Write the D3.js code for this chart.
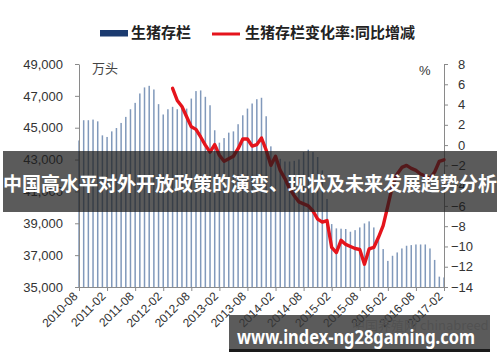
<!DOCTYPE html>
<html>
<head>
<meta charset="utf-8">
<script src="https://cdn.jsdelivr.net/npm/d3@7"></script>
<style>
  html, body { margin: 0; padding: 0; background: #fff; }
  svg { display: block; }
</style>
</head>
<body>
<div id="chart"></div>
<script>
const width = 500;
const height = 362;

// monthly categories, 2010-08 .. 2017-02
const firstMonth = "2010-08";
const lastMonth = "2017-02";
const tickLabels = ["2010-08", "2011-02", "2011-08", "2012-02", "2012-08", "2013-02", "2013-08",
                    "2014-02", "2014-08", "2015-02", "2015-08", "2016-02", "2016-08", "2017-02"];

// 生猪存栏 (万头), one per month
const stock = [
  44200, 45470, 45470, 45510, 45400, 44520, 44420, 44770, 44980, 45300,
  45680, 46160, 46560, 47150, 47530, 47630, 47400, 46480, 45830, 46160,
  46310, 46160, 46400, 46200, 46830, 47300, 47340, 46940, 46410, 44840,
  44060, 44350, 44690, 44770, 45220, 45780, 46200, 46520, 46790, 46880,
  45720, 43830, 43260, 43050, 42880, 42880, 42920, 43010, 43470, 43620,
  43470, 43160, 42320, 40530, 38950, 38680, 38660, 38640, 38470, 38570,
  38740, 38990, 39120, 38740, 38110, 37380, 36640, 36960, 37170, 37420,
  37590, 37630, 37670, 37670, 37670, 37420, 36700, 35650, 35600
];

// 生猪存栏变化率:同比增减 (%), from 2012-04
const yoyStart = "2012-04";
const yoy = [
  5.6, 4.4, 3.8, 2.8, 1.8, 1.55, 0.8, 0.0, -0.7, 0.05,
  -1.0, -1.6, -1.35, -1.1, -0.35, 0.6, 0.6, -0.1, 0.05, 0.7,
  -0.5, -2.0, -1.1, -2.5, -3.3, -4.3, -5.0, -5.6, -5.8, -6.0,
  -6.5, -7.3, -7.6, -7.45, -10.1, -10.6, -9.4, -9.8, -10.0, -10.2,
  -10.3, -11.75, -10.25, -10.1, -9.1, -7.95, -6.0, -4.0, -2.85, -2.2,
  -2.0, -2.3, -2.5, -2.85, -3.05, -3.3, -2.65, -1.6, -1.45
];

const leftTicks = [35000, 37000, 39000, 41000, 43000, 45000, 47000, 49000];
const rightTicks = [-14, -12, -10, -8, -6, -4, -2, 0, 2, 4, 6, 8];

const fmtMonth = d3.timeFormat("%Y-%m");
const parseMonth = d3.timeParse("%Y-%m");
const months = d3.timeMonth.range(parseMonth(firstMonth), d3.timeMonth.offset(parseMonth(lastMonth), 1)).map(fmtMonth);

const plot = { left: 79, right: 444, top: 64, bottom: 287 };

const svg = d3.select("#chart").append("svg")
    .attr("width", width)
    .attr("height", height)
    .style("font-family", "'Liberation Sans', Arial, sans-serif");

const x = d3.scalePoint().domain(months).range([plot.left, plot.right]);
const yL = d3.scaleLinear().domain([35000, 49000]).range([plot.bottom, plot.top]);
const yR = d3.scaleLinear().domain([-14, 8]).range([plot.bottom, plot.top]);

// bars
svg.append("g").selectAll("rect")
    .data(stock)
    .enter()
    .append("rect")
    .attr("x", (d, i) => x(months[i]) - 0.75)
    .attr("width", 1.5)
    .attr("y", d => yL(d))
    .attr("height", d => yL(35000) - yL(d))
    .style("fill", "#8199bb");

// axes
const axisColor = "#8a8a8a";

const leftAxis = svg.append("g")
    .attr("transform", `translate(${plot.left},0)`)
    .call(d3.axisLeft(yL).tickValues(leftTicks).tickFormat(d3.format(",")).tickSize(4).tickSizeOuter(0));
leftAxis.selectAll("text")
    .attr("x", -16)
    .style("font-size", "13px")
    .style("fill", "#333");

const rightAxis = svg.append("g")
    .attr("transform", `translate(${plot.right},0)`)
    .call(d3.axisRight(yR).tickValues(rightTicks).tickSize(4).tickSizeOuter(0));
rightAxis.selectAll("text")
    .attr("x", d => d < 0 ? 7 : 14)
    .style("text-anchor", "start")
    .style("font-size", "13px")
    .style("fill", "#333");

const bottomAxis = svg.append("g")
    .attr("transform", `translate(0,${plot.bottom})`)
    .call(d3.axisBottom(x).tickValues(tickLabels).tickSize(4).tickSizeOuter(0));
bottomAxis.selectAll("text")
    .attr("transform", "translate(-4,7) rotate(-45)")
    .attr("y", 0)
    .attr("x", 0)
    .attr("dy", "0.35em")
    .style("text-anchor", "end")
    .style("font-size", "12px")
    .style("fill", "#333");

[leftAxis, rightAxis, bottomAxis].forEach(g => {
    g.select(".domain").style("stroke", axisColor);
    g.selectAll(".tick line").style("stroke", axisColor);
});

// yoy line
const yoyOffset = months.indexOf(yoyStart);
const line = d3.line()
    .x((d, i) => x(months[i + yoyOffset]))
    .y(d => yR(d));

svg.append("path")
    .datum(yoy)
    .attr("d", line)
    .style("fill", "none")
    .style("stroke", "#e5141c")
    .style("stroke-width", 3.4)
    .style("stroke-linejoin", "round")
    .style("stroke-linecap", "round");

// unit labels
svg.append("text")
    .attr("x", 92).attr("y", 73)
    .style("font-family", "'Noto Sans CJK SC', sans-serif")
    .style("font-size", "13px")
    .style("fill", "#444")
    .text("万头");

svg.append("text")
    .attr("x", 419).attr("y", 75)
    .style("font-size", "13px")
    .style("fill", "#333")
    .text("%");

// legend
const legend = svg.append("g")
    .style("font-family", "'Noto Sans CJK SC', sans-serif")
    .style("font-weight", "bold")
    .style("font-size", "15px")
    .style("fill", "#222");

legend.append("rect")
    .attr("x", 100).attr("y", 30)
    .attr("width", 28).attr("height", 6.5)
    .style("fill", "#1b3b70");
legend.append("text")
    .attr("x", 131).attr("y", 33)
    .attr("dy", "0.35em")
    .text("生猪存栏");

legend.append("line")
    .attr("x1", 212).attr("x2", 240)
    .attr("y1", 34).attr("y2", 34)
    .style("stroke", "#e5141c")
    .style("stroke-width", 3);
legend.append("text")
    .attr("x", 245).attr("y", 33)
    .attr("dy", "0.35em")
    .text("生猪存栏变化率:同比增减");

// faint source watermark
svg.append("text")
    .attr("x", 352).attr("y", 330)
    .style("font-family", "'Noto Sans CJK SC', sans-serif")
    .style("font-size", "13px")
    .style("fill", "#c8c8c8")
    .text("中国养殖网 chinabreed");

// overlay banner
svg.append("rect")
    .attr("x", 3).attr("y", 151)
    .attr("width", 494).attr("height", 61)
    .style("fill", "rgba(28,28,28,0.72)");

svg.append("text")
    .attr("x", 250).attr("y", 184)
    .attr("dy", "0.35em")
    .attr("text-anchor", "middle")
    .attr("textLength", 494)
    .attr("lengthAdjust", "spacingAndGlyphs")
    .style("font-family", "'Noto Sans CJK SC', sans-serif")
    .style("font-weight", "bold")
    .style("font-size", "19px")
    .style("fill", "#fff")
    .text("中国高水平对外开放政策的演变、现状及未来发展趋势分析");

// bottom site tag
svg.append("rect")
    .attr("x", 229).attr("y", 315)
    .attr("width", 261).attr("height", 35)
    .style("fill", "rgba(55,55,55,0.82)");
svg.append("rect")
    .attr("x", 229).attr("y", 349)
    .attr("width", 261).attr("height", 3)
    .style("fill", "#1a1a1a");

svg.append("text")
    .attr("x", 237).attr("y", 344)
    .attr("textLength", 238)
    .attr("lengthAdjust", "spacingAndGlyphs")
    .style("font-family", "'Noto Sans', 'Open Sans', sans-serif")
    .style("font-weight", "bold")
    .style("font-size", "20px")
    .style("fill", "#fff")
    .text("www.index-ng28gaming.com");
</script>
</body>
</html>
